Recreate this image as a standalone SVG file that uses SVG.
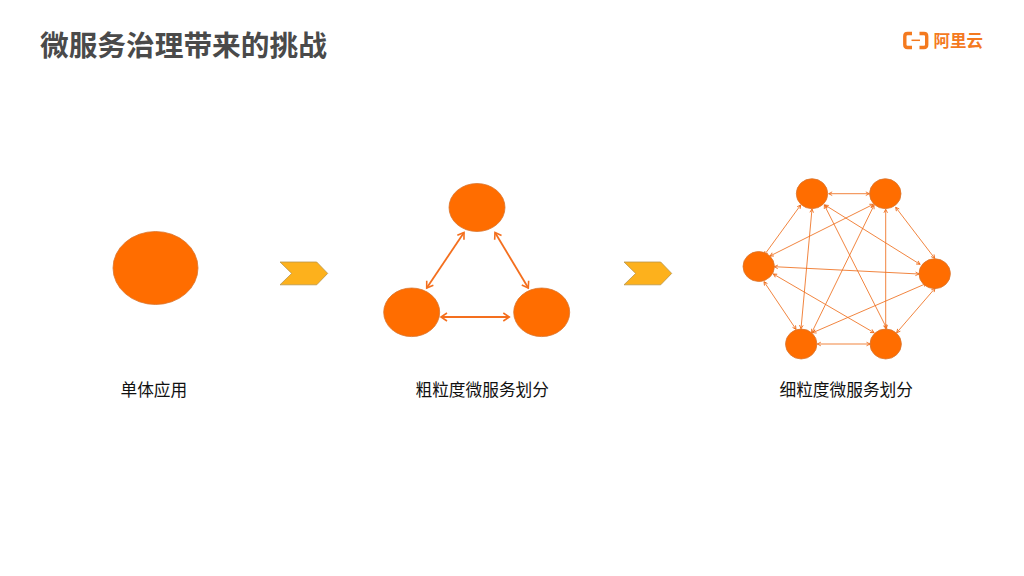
<svg xmlns="http://www.w3.org/2000/svg" width="1024" height="576" viewBox="0 0 1024 576">
<style>
text{font-family:"Noto Sans CJK SC","Liberation Sans",sans-serif}
.title{font-size:28.7px;font-weight:700;fill:#4a4a4a}
.label{font-size:16.7px;fill:#111}
.logo{font-size:16.5px;font-weight:700;fill:#f47a1f}
.node{fill:#ff6d00;stroke:#d9752f;stroke-width:.8}
.chev{fill:#fdb11c;stroke:#b9964a;stroke-width:.8}
.thick{stroke:#f46f1e;stroke-width:1.8;fill:none;marker-start:url(#bigS);marker-end:url(#bigE)}
.thin{stroke:#ef6f1e;stroke-width:.85;fill:none;marker-start:url(#smS);marker-end:url(#smE)}
</style>
<defs>
<marker id="bigE" markerUnits="userSpaceOnUse" markerWidth="12" markerHeight="12" refX="8" refY="5" orient="auto"><path d="M2 1L8 5L2 9" fill="none" stroke="#f46f1e" stroke-width="1.6"/></marker>
<marker id="bigS" markerUnits="userSpaceOnUse" markerWidth="12" markerHeight="12" refX="2" refY="5" orient="auto"><path d="M8 1L2 5L8 9" fill="none" stroke="#f46f1e" stroke-width="1.6"/></marker>
<marker id="smE" markerUnits="userSpaceOnUse" markerWidth="8" markerHeight="8" refX="5" refY="3" orient="auto"><path d="M1.500 1.200L5 3L1.500 4.800" fill="none" stroke="#ef6f1e" stroke-width=".9"/></marker>
<marker id="smS" markerUnits="userSpaceOnUse" markerWidth="8" markerHeight="8" refX="1" refY="3" orient="auto"><path d="M4.500 1.200L1 3L4.500 4.800" fill="none" stroke="#ef6f1e" stroke-width=".9"/></marker>
</defs>
<rect width="1024" height="576" fill="#fff"/>
<text id="title" class="title" x="40" y="56">微服务治理带来的挑战</text>
<g id="logo">
<path d="M912 33.500H907.500Q904.800 33.500 904.800 36.200V44.800Q904.800 47.500 907.500 47.500H912M919.500 33.500H924Q926.700 33.500 926.700 36.200V44.800Q926.700 47.500 924 47.500H919.500" fill="none" stroke="#f47a1f" stroke-width="3.400"/>
<path d="M911.500 40.300H920" stroke="#f47a1f" stroke-width="1.500"/>
<text class="logo" x="933.500" y="46.500">阿里云</text>
</g>
<g id="connectors">
<g>
<path class="thick" d="M464 232.500L426.700 288"/>
<path class="thick" d="M495 232.500L528.300 288"/>
<path class="thick" d="M441 317H509.300"/>
</g>
<g>
<path class="thin" d="M828.700 193.700H869.300"/>
<path class="thin" d="M800.700 205L764.300 255"/>
<path class="thin" d="M895.700 207.300L934.700 258.300"/>
<path class="thin" d="M812 209L801 328.700"/>
<path class="thin" d="M825 205L920 264.300"/>
<path class="thin" d="M824.300 205L886.700 328.300"/>
<path class="thin" d="M873.300 204.300L770 256"/>
<path class="thin" d="M874 205.300L811.700 332.700"/>
<path class="thin" d="M885.700 209.300V328.700"/>
<path class="thin" d="M774.300 266.700L919 274"/>
<path class="thin" d="M764 281.700L796 329.300"/>
<path class="thin" d="M773.300 274L874 332.700"/>
<path class="thin" d="M926.700 283.300L812.700 332.700"/>
<path class="thin" d="M935 288.300L896.700 332.700"/>
<path class="thin" d="M817.300 344H870"/>
</g>
</g>
<g id="mono"><ellipse class="node" cx="155.500" cy="268" rx="42.500" ry="36.500"/></g>
<g id="arrow1"><path class="chev" d="M280 262H316.700L327.700 273.400L316.700 284.800H280L291.700 273.400Z"/></g>
<g id="arrow2"><path class="chev" d="M624 262H660.700L671.700 273.400L660.700 284.800H624L635.700 273.400Z"/></g>
<g id="coarse-top"><ellipse class="node" cx="477" cy="207.500" rx="28" ry="24"/></g>
<g id="coarse-left"><ellipse class="node" cx="411.700" cy="312.300" rx="28" ry="24.300"/></g>
<g id="coarse-right"><ellipse class="node" cx="541.700" cy="312.300" rx="28" ry="24.300"/></g>
<g id="fine-tl"><ellipse class="node" cx="812" cy="193.700" rx="15.700" ry="15"/></g>
<g id="fine-tr"><ellipse class="node" cx="885.300" cy="193.700" rx="15.700" ry="15"/></g>
<g id="fine-l"><ellipse class="node" cx="758.700" cy="266.500" rx="15.700" ry="15"/></g>
<g id="fine-r"><ellipse class="node" cx="934.700" cy="273.700" rx="15.700" ry="15"/></g>
<g id="fine-bl"><ellipse class="node" cx="801.200" cy="344" rx="15.700" ry="15"/></g>
<g id="fine-br"><ellipse class="node" cx="885.700" cy="344" rx="15.700" ry="15"/></g>
<text class="label" x="120.500" y="395.500">单体应用</text>
<text class="label" x="415.500" y="395.500">粗粒度微服务划分</text>
<text class="label" x="779.500" y="395.500">细粒度微服务划分</text>
</svg>
